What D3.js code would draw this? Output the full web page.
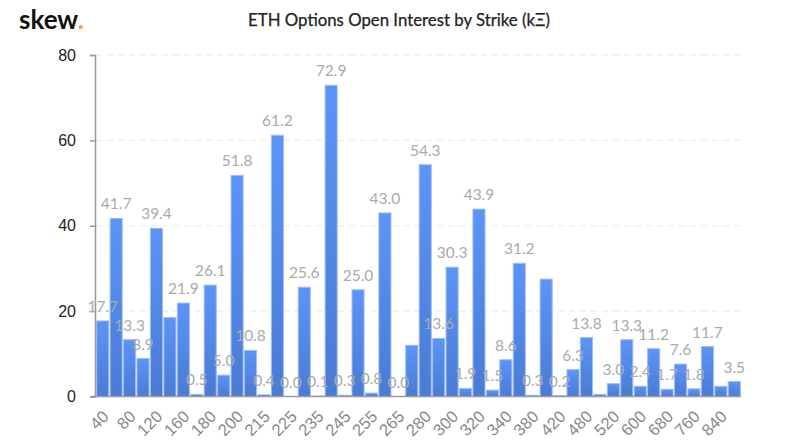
<!DOCTYPE html>
<html lang="en">
<head>
  <meta charset="UTF-8" />
  <title>ETH Options Open Interest by Strike</title>
  <style>
    html, body { margin: 0; padding: 0; background: #fff; }
    svg { display: block; font-family: Lato, sans-serif; }
    .grid line { stroke: #e8e8e8; stroke-dasharray: 6 5; }
    .y-axis text { font-size: 16px; fill: #222; }
    .y-axis path, .y-axis line { stroke: #999; stroke-width: 1.5px; }
    .x-axis text { font-size: 16.5px; fill: #888; }
    .x-axis path { stroke: #999; stroke-width: 1.5px; }
    .x-axis line { display: none; }
    .value { font-size: 15.5px; fill: #aaa; text-anchor: middle; }
    .bar { stroke: #9dbdf8; stroke-width: 1px; }
  </style>
</head>
<body>
  <svg id="chart" width="800" height="447"></svg>

  <script src="https://d3js.org/d3.v7.min.js"></script>
  <script>
    const strikes = [40, 60, 80, 100, 120, 140, 160, 170, 180, 190, 200, 210, 215, 220, 225, 230,
      235, 240, 245, 250, 255, 260, 265, 270, 280, 290, 300, 310, 320, 330, 340, 360,
      380, 400, 420, 440, 480, 500, 520, 560, 600, 640, 680, 720, 760, 800, 840, 880];
    const openInterest = [17.7, 41.7, 13.3, 8.9, 39.4, 18.5, 21.9, 0.5, 26.1, 5.0, 51.8, 10.8, 0.4, 61.2, 0.0, 25.6,
      0.1, 72.9, 0.3, 25.0, 0.8, 43.0, 0.0, 12.0, 54.3, 13.6, 30.3, 1.9, 43.9, 1.5, 8.6, 31.2,
      0.3, 27.5, 0.2, 6.3, 13.8, 0.5, 3.0, 13.3, 2.4, 11.2, 1.7, 7.6, 1.8, 11.7, 2.4, 3.5];
    // labels the original chart drops because they collide with a taller neighbour
    const hiddenLabels = [140, 270, 400, 500, 840];
    const xTickLabels = [40, 80, 120, 160, 180, 200, 215, 225, 235, 245, 255, 265,
      280, 300, 320, 340, 380, 420, 480, 520, 600, 680, 760, 840];
    const yTicks = [0, 20, 40, 60, 80];

    const svg = d3.select("#chart");
    const plotLeft = 96, plotRight = 741, plotTop = 55, plotBottom = 396.5;

    const x = d3.scaleBand().domain(strikes).range([plotLeft, plotRight]).paddingInner(0.1).paddingOuter(0.05);
    const y = d3.scaleLinear().domain([0, 80]).range([plotBottom, plotTop]);

    const grad = svg.append("defs").append("linearGradient")
      .attr("id", "barFill").attr("x1", 0).attr("y1", 0).attr("x2", 0).attr("y2", 1);
    grad.append("stop").attr("offset", "0%").attr("stop-color", "#5c94f6");
    grad.append("stop").attr("offset", "100%").attr("stop-color", "#4a7bd5");

    svg.append("g").attr("class", "grid")
      .selectAll("line").data(yTicks.slice(1)).enter().append("line")
      .attr("x1", plotLeft).attr("x2", plotRight)
      .attr("y1", d => y(d)).attr("y2", d => y(d));

    svg.selectAll(".bar").data(strikes).enter().append("rect")
      .attr("class", "bar")
      .attr("x", d => x(d))
      .attr("width", x.bandwidth())
      .attr("y", (d, i) => y(openInterest[i]))
      .attr("height", (d, i) => plotBottom - y(openInterest[i]))
      .attr("fill", "url(#barFill)");

    svg.append("g").attr("class", "y-axis")
      .attr("transform", `translate(${plotLeft - 1},0)`)
      .call(d3.axisLeft(y).tickValues(yTicks).tickSize(5).tickPadding(14));

    const xAxis = svg.append("g").attr("class", "x-axis")
      .attr("transform", `translate(0,${plotBottom})`)
      .call(d3.axisBottom(x).tickValues(xTickLabels).tickSize(0).tickSizeOuter(0));
    xAxis.select(".domain").attr("d", `M${plotLeft - 5},0H${plotRight}`);
    xAxis.selectAll("text")
      .attr("text-anchor", "end")
      .attr("transform", "translate(3,17) rotate(-45)")
      .attr("dy", "0.35em")
      .attr("y", 0);

    svg.selectAll(".value").data(strikes.filter(d => !hiddenLabels.includes(d))).enter().append("text")
      .attr("class", "value")
      .attr("x", d => x(d) + x.bandwidth() / 2)
      .attr("y", d => y(openInterest[strikes.indexOf(d)]) - 9)
      .text(d => openInterest[strikes.indexOf(d)].toFixed(1));

    svg.append("text")
      .attr("x", 399).attr("y", 26)
      .attr("text-anchor", "middle")
      .attr("font-size", 16.8).attr("fill", "#222")
      .attr("stroke", "#222").attr("stroke-width", 0.25)
      .text("ETH Options Open Interest by Strike (kΞ)");

    const logo = svg.append("text").attr("x", 19).attr("y", 29)
      .attr("font-size", 26).attr("font-weight", 700).attr("fill", "#111");
    logo.append("tspan").text("skew");
    logo.append("tspan").attr("fill", "#f5a623").text(".");
  </script>
</body>
</html>
